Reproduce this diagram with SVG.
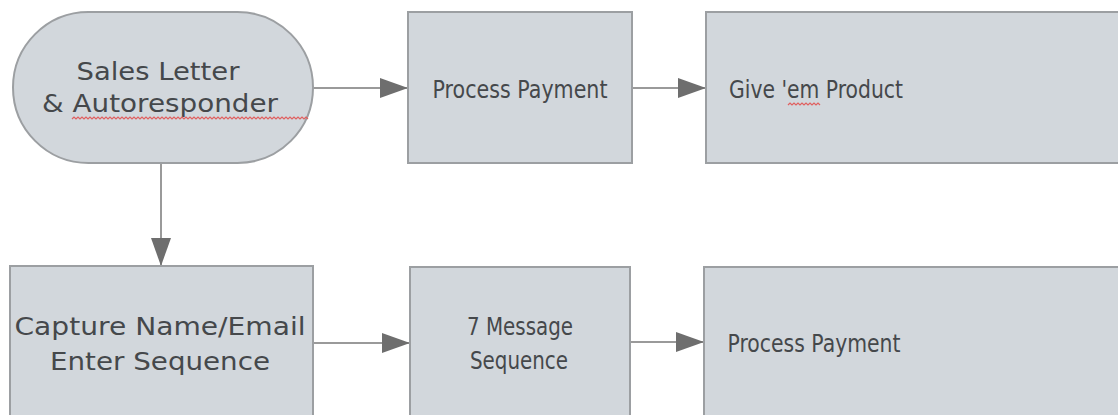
<svg xmlns="http://www.w3.org/2000/svg" width="1118" height="415" viewBox="0 0 1118 415">
<style>
.node{fill:#d2d7dc;stroke:#9c9fa2;stroke-width:2}
.lbl{font-family:"DejaVu Sans","Liberation Sans",sans-serif;font-size:25px;fill:#45484b}
.conn{stroke:#9a9a9a;stroke-width:2;fill:none}
.sq{stroke:#e06060;stroke-width:1.2;fill:none}
</style>
<defs>
<marker id="ah" markerUnits="userSpaceOnUse" markerWidth="28" markerHeight="22" refX="28" refY="11" orient="auto">
<path d="M0,1 L28,11 L0,21 z" fill="#6e6e6e"/>
</marker>
</defs>
<rect width="1118" height="415" fill="#ffffff"/>
<g id="connectors">
<line class="conn" x1="313" y1="88" x2="408" y2="88" marker-end="url(#ah)"/>
<line class="conn" x1="632" y1="88" x2="706" y2="88" marker-end="url(#ah)"/>
<line class="conn" x1="161" y1="163" x2="161" y2="266" marker-end="url(#ah)"/>
<line class="conn" x1="313" y1="343" x2="410" y2="343" marker-end="url(#ah)"/>
<line class="conn" x1="630" y1="342" x2="704" y2="342" marker-end="url(#ah)"/>
</g>
<g id="sales-letter">
<rect class="node" x="13" y="12" width="300" height="151" rx="75.5" ry="75.5"/>
<text class="lbl" x="158" y="80" text-anchor="middle" textLength="163" lengthAdjust="spacingAndGlyphs">Sales Letter</text>
<text class="lbl" x="160" y="112" text-anchor="middle" textLength="236" lengthAdjust="spacingAndGlyphs">&amp; Autoresponder</text>
<path class="sq" d="M72,119 l2,-2 l2,2 l2,-2 l2,2 l2,-2 l2,2 l2,-2 l2,2 l2,-2 l2,2 l2,-2 l2,2 l2,-2 l2,2 l2,-2 l2,2 l2,-2 l2,2 l2,-2 l2,2 l2,-2 l2,2 l2,-2 l2,2 l2,-2 l2,2 l2,-2 l2,2 l2,-2 l2,2 l2,-2 l2,2 l2,-2 l2,2 l2,-2 l2,2 l2,-2 l2,2 l2,-2 l2,2 l2,-2 l2,2 l2,-2 l2,2 l2,-2 l2,2 l2,-2 l2,2 l2,-2 l2,2 l2,-2 l2,2 l2,-2 l2,2 l2,-2 l2,2 l2,-2 l2,2 l2,-2 l2,2 l2,-2 l2,2 l2,-2 l2,2 l2,-2 l2,2 l2,-2 l2,2 l2,-2 l2,2 l2,-2 l2,2 l2,-2 l2,2 l2,-2 l2,2 l2,-2 l2,2 l2,-2 l2,2 l2,-2 l2,2 l2,-2 l2,2 l2,-2 l2,2 l2,-2 l2,2 l2,-2 l2,2 l2,-2 l2,2 l2,-2 l2,2 l2,-2 l2,2 l2,-2 l2,2 l2,-2 l2,2 l2,-2 l2,2 l2,-2 l2,2 l2,-2 l2,2 l2,-2 l2,2 l2,-2 l2,2 l2,-2 l2,2 l2,-2 l2,2 l2,-2 l2,2 l2,-2 l2,2"/>
</g>
<g id="process-payment-1">
<rect class="node" x="408" y="12" width="224" height="151"/>
<text class="lbl" x="520" y="98" text-anchor="middle" textLength="175" lengthAdjust="spacingAndGlyphs">Process Payment</text>
</g>
<g id="give-product">
<rect class="node" x="706" y="12" width="420" height="151"/>
<text class="lbl" x="816" y="98" text-anchor="middle" textLength="174" lengthAdjust="spacingAndGlyphs">Give 'em Product</text>
<path class="sq" d="M788,105 l2,-2 l2,2 l2,-2 l2,2 l2,-2 l2,2 l2,-2 l2,2 l2,-2 l2,2 l2,-2 l2,2 l2,-2 l2,2 l2,-2 l2,2"/>
</g>
<g id="capture">
<rect class="node" x="10" y="266" width="303" height="160"/>
<text class="lbl" x="160" y="335" text-anchor="middle" textLength="291" lengthAdjust="spacingAndGlyphs">Capture Name/Email</text>
<text class="lbl" x="160" y="370" text-anchor="middle" textLength="220" lengthAdjust="spacingAndGlyphs">Enter Sequence</text>
</g>
<g id="message-sequence">
<rect class="node" x="410" y="267" width="220" height="160"/>
<text class="lbl" x="520" y="335" text-anchor="middle" textLength="106" lengthAdjust="spacingAndGlyphs">7 Message</text>
<text class="lbl" x="519" y="369" text-anchor="middle" textLength="98" lengthAdjust="spacingAndGlyphs">Sequence</text>
</g>
<g id="process-payment-2">
<rect class="node" x="704" y="267" width="420" height="160"/>
<text class="lbl" x="814" y="352" text-anchor="middle" textLength="173" lengthAdjust="spacingAndGlyphs">Process Payment</text>
</g>
</svg>
